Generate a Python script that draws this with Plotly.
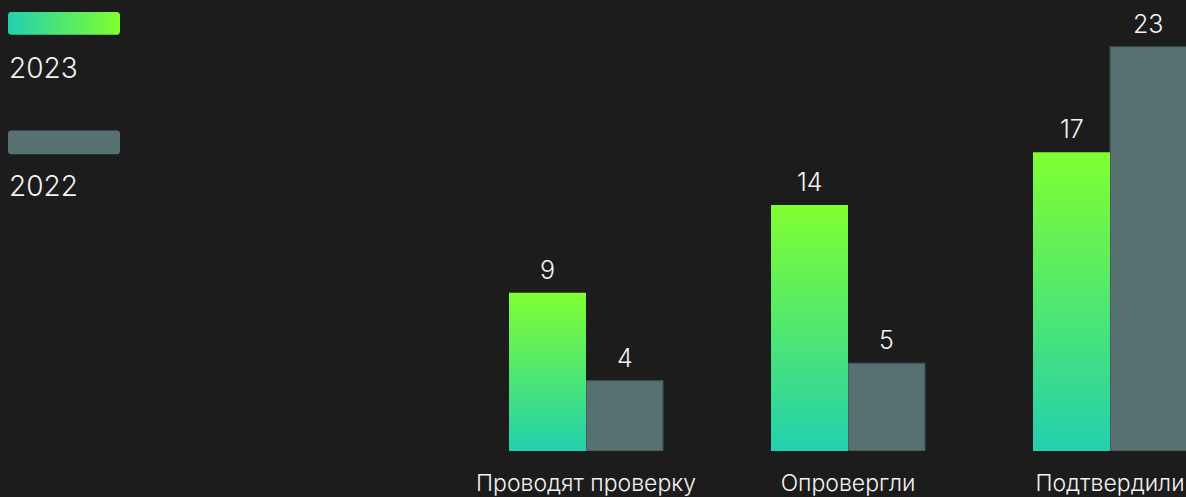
import plotly.graph_objects as go
import math

categories = ["Проводят проверку", "Опровергли", "Подтвердили"]
values_2023 = [9, 14, 17]
values_2022 = [4, 5, 23]
series_names = ["2023", "2022"]

BG = "#1c1c1c"
TEAL = "#22d0ae"
LIME = "#80ff30"
GRAY = "#567170"
TXT = "#f2f2f2"
FONT = "Inter"

W = 1186
H = 497
BAR_W = 77 / 262

fig = go.Figure()

xs = list(range(len(categories)))

# 2023 bars: gradient fills drawn as closed polygons on the numeric category axis
for i, v in zip(xs, values_2023):
    fig.add_trace(go.Scatter(
        x=[i - BAR_W, i, i, i - BAR_W, i - BAR_W],
        y=[0, 0, v, v, 0],
        mode="lines", fill="toself", line=dict(width=0),
        fillgradient=dict(type="vertical", colorscale=[[0, TEAL], [1, LIME]]),
        hoverinfo="skip", showlegend=False, name=series_names[0],
    ))

# 2022 bars
fig.add_trace(go.Bar(
    x=xs, y=values_2022, width=BAR_W, offset=0,
    marker=dict(color=GRAY, line=dict(width=1, color="#3f5050")),
    name=series_names[1], showlegend=False,
))

# value labels
for i, v in zip(xs, values_2023):
    fig.add_annotation(x=i - BAR_W / 2, y=v, text=str(v), showarrow=False,
                       yanchor="middle", yshift=23,
                       font=dict(family=FONT, size=25, color=TXT, weight=300))
for i, v in zip(xs, values_2022):
    fig.add_annotation(x=i + BAR_W / 2, y=v, text=str(v), showarrow=False,
                       yanchor="middle", yshift=23,
                       font=dict(family=FONT, size=25, color=TXT, weight=300))


# legend swatches (pixel-space overlay axes)
def rrect(x0, y0, x1, y1, r=3):
    pts = []
    corners = [(x1 - r, y0 + r, -90), (x1 - r, y1 - r, 0), (x0 + r, y1 - r, 90), (x0 + r, y0 + r, 180)]
    for cx, cy, a0 in corners:
        for k in range(7):
            a = math.radians(a0 + k * 15)
            pts.append((cx + r * math.cos(a), cy + r * math.sin(a)))
    pts.append(pts[0])
    return [p[0] for p in pts], [p[1] for p in pts]


sx, sy = rrect(8, 12, 120, 35)
fig.add_trace(go.Scatter(x=sx, y=sy, xaxis="x2", yaxis="y2", mode="lines", fill="toself",
                         line=dict(width=0),
                         fillgradient=dict(type="horizontal", colorscale=[[0, TEAL], [1, LIME]]),
                         hoverinfo="skip", showlegend=False))
sx, sy = rrect(8, 131, 120, 155)
fig.add_trace(go.Scatter(x=sx, y=sy, xaxis="x2", yaxis="y2", mode="lines", fill="toself",
                         line=dict(width=0), fillcolor=GRAY,
                         hoverinfo="skip", showlegend=False))
fig.add_annotation(x=7, y=68, xref="x2", yref="y2", text=series_names[0], showarrow=False,
                   xanchor="left", yanchor="middle",
                   font=dict(family=FONT, size=28, color=TXT, weight=300))
fig.add_annotation(x=7, y=187, xref="x2", yref="y2", text=series_names[1], showarrow=False,
                   xanchor="left", yanchor="middle",
                   font=dict(family=FONT, size=28, color=TXT, weight=300))

fig.update_layout(
    width=W, height=H,
    paper_bgcolor=BG, plot_bgcolor=BG,
    margin=dict(l=0, r=0, t=0, b=44),
    showlegend=False,
    xaxis=dict(range=[-586 / 262, 600 / 262], tickvals=xs, ticktext=categories,
               showgrid=False, zeroline=False, showline=False, ticks="",
               tickfont=dict(family=FONT, size=23, color=TXT, weight=300),
               ticklabelstandoff=16, fixedrange=True),
    yaxis=dict(range=[0, 453 / 17.652], visible=False, fixedrange=True),
    xaxis2=dict(range=[0, W], overlaying="x", visible=False, fixedrange=True),
    yaxis2=dict(range=[453, 0], overlaying="y", visible=False, fixedrange=True),
)

fig.write_html("out.html", config={"displayModeBar": False},
               post_script="document.body.style.margin='0';document.body.style.overflow='hidden';document.body.style.background='#1c1c1c';")
